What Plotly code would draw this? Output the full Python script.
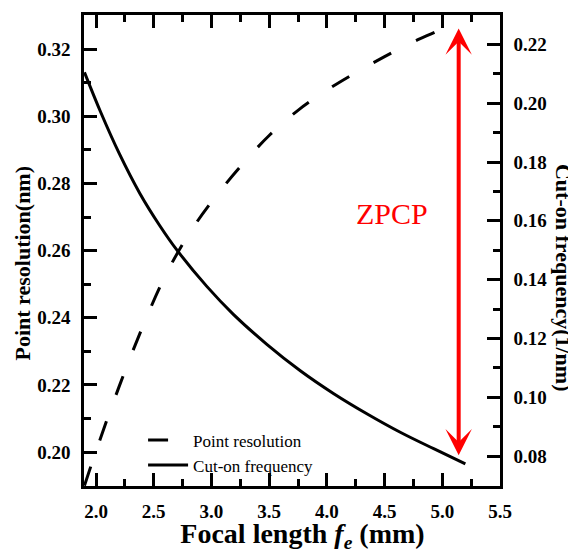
import plotly.graph_objects as go

# Point resolution (left axis) vs focal length
focal_res = [1.90, 2.00, 2.20, 2.40, 2.60, 2.80, 3.00, 3.25, 3.50, 3.75, 4.00, 4.25, 4.50, 4.75, 5.00, 5.07]
point_res = [0.1900, 0.2003, 0.2195, 0.2370, 0.2525, 0.2647, 0.2745, 0.2850, 0.2943, 0.3018,
             0.3078, 0.3130, 0.3178, 0.3222, 0.3262, 0.3279]

# Cut-on frequency (right axis) vs focal length
focal_cut = [1.90, 2.04, 2.20, 2.38, 2.55, 2.70, 2.96, 3.19, 3.48, 3.77, 4.06, 4.35, 4.64, 4.93, 5.20]
cut_on = [0.2105, 0.1970, 0.1830, 0.1693, 0.1585, 0.1501, 0.1377, 0.1282, 0.1180, 0.1090,
          0.1012, 0.0943, 0.0880, 0.0824, 0.0773]

x_ticks = [2.0, 2.5, 3.0, 3.5, 4.0, 4.5, 5.0, 5.5]
y_left_ticks = [0.20, 0.22, 0.24, 0.26, 0.28, 0.30, 0.32]
y_right_ticks = [0.08, 0.10, 0.12, 0.14, 0.16, 0.18, 0.20, 0.22]

SERIF = "Liberation Serif, Times New Roman, serif"

fig = go.Figure()
fig.add_trace(go.Scatter(
    x=focal_res, y=point_res, mode="lines", name="Point resolution",
    line=dict(color="black", width=3, dash="20px,28px", shape="spline"),
    yaxis="y",
))
fig.add_trace(go.Scatter(
    x=focal_cut, y=cut_on, mode="lines", name="Cut-on frequency",
    line=dict(color="black", width=3, shape="spline"),
    yaxis="y2",
))

tickfont = dict(family=SERIF, size=19, color="black", weight="bold")
titlefont = dict(family=SERIF, size=22, color="black", weight="bold")

# page has an 8px body margin, so the figure is sized 8px smaller
fig.update_layout(
    width=568, height=545,
    margin=dict(l=76, r=76, t=7, b=67),
    paper_bgcolor="white", plot_bgcolor="white",
    font=dict(family=SERIF, color="black"),
    showlegend=True,
    legend=dict(
        x=0.142, y=0.135, xanchor="left", yanchor="top",
        bgcolor="rgba(0,0,0,0)", borderwidth=0,
        font=dict(family=SERIF, size=17, color="black"),
        itemwidth=40, tracegroupgap=0,
    ),
    xaxis=dict(
        range=[1.896, 5.5], tickvals=x_ticks, ticktext=[f"{v:.1f}" for v in x_ticks],
        ticks="inside", ticklen=13, tickwidth=2.5, tickcolor="black",
        minor=dict(ticks="inside", ticklen=7, tickwidth=2.5, tickcolor="black", dtick=0.25, tick0=2.0),
        showline=True, linewidth=2.5, linecolor="black", mirror="ticks",
        showgrid=False, zeroline=False, tickfont=tickfont, ticklabelstandoff=6,
        automargin=False,
        title=dict(text="&nbsp;&nbsp;&nbsp;Focal length <i>f</i><sub><i>e</i></sub> (mm)",
                   font=dict(family=SERIF, size=28, color="black", weight="bold"), standoff=9),
    ),
    yaxis=dict(
        range=[0.1899, 0.3302], tickvals=y_left_ticks, ticktext=[f"{v:.2f}" for v in y_left_ticks],
        ticks="inside", ticklen=13, tickwidth=2.5, tickcolor="black",
        minor=dict(ticks="inside", ticklen=7, tickwidth=2.5, tickcolor="black", dtick=0.01, tick0=0.20),
        showline=True, linewidth=2.5, linecolor="black", mirror=False,
        showgrid=False, zeroline=False, tickfont=tickfont, ticklabelstandoff=7,
        automargin=False,
    ),
    yaxis2=dict(
        overlaying="y", side="right",
        range=[0.0698, 0.2300], tickvals=y_right_ticks, ticktext=[f"{v:.2f}" for v in y_right_ticks],
        ticks="inside", ticklen=13, tickwidth=2.5, tickcolor="black",
        minor=dict(ticks="inside", ticklen=7, tickwidth=2.5, tickcolor="black", dtick=0.01, tick0=0.08),
        showline=True, linewidth=2.5, linecolor="black",
        showgrid=False, zeroline=False, tickfont=tickfont, ticklabelstandoff=7,
        automargin=False,
    ),
)

# Axis titles for the two y axes (placed as in the reference, slightly below centre)
fig.add_annotation(x=-0.149, y=0.4724, xref="paper", yref="paper",
                   text="Point resolution(nm)", textangle=-90, showarrow=False,
                   xanchor="center", yanchor="middle", font=titlefont)
fig.add_annotation(x=1.154, y=0.4416, xref="paper", yref="paper",
                   text="Cut-on frequency(1/nm)", textangle=90, showarrow=False,
                   xanchor="center", yanchor="middle", font=titlefont)

# Red double-headed arrow marking the ZPCP range
fig.add_annotation(
    x=5.142, y=0.3262, xref="x", yref="y",
    ax=5.142, ay=0.1986, axref="x", ayref="y",
    text="", showarrow=True, arrowside="end+start",
    arrowhead=3, startarrowhead=3, arrowsize=1.1, startarrowsize=1.1,
    arrowwidth=4, arrowcolor="red", standoff=0, startstandoff=0,
)
fig.add_annotation(
    x=4.567, y=0.2712, xref="x", yref="y",
    text="ZPCP", showarrow=False,
    font=dict(family=SERIF, size=30, color="red"),
)

fig.write_html("out.html")
